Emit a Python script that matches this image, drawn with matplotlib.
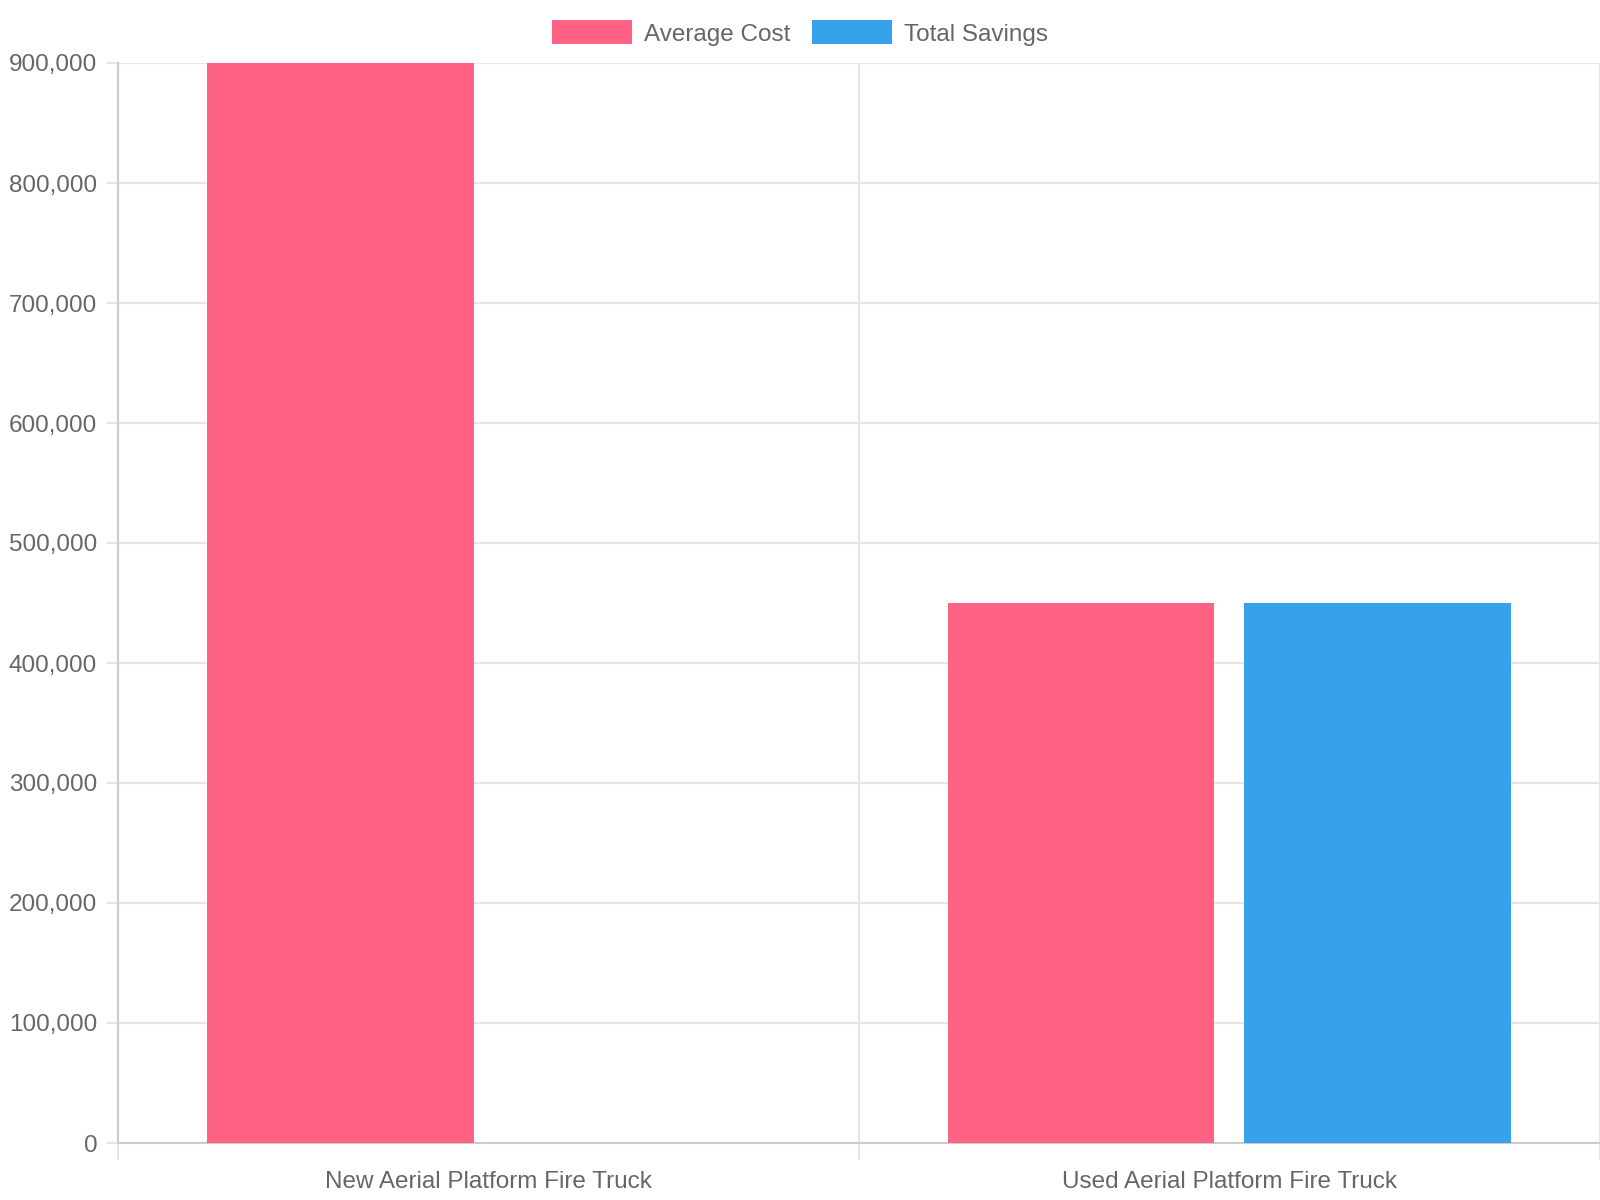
import matplotlib.pyplot as plt
from matplotlib.patches import Patch
from matplotlib.ticker import FuncFormatter

plt.rcParams['font.family'] = ['Liberation Sans', 'DejaVu Sans']

# Data
categories = ["New Aerial Platform Fire Truck", "Used Aerial Platform Fire Truck"]
average_cost = [900000, 450000]
total_savings = [0, 450000]
series_names = ["Average Cost", "Total Savings"]
colors = ["#FF6384", "#36A2EB"]

fig = plt.figure(figsize=(16, 12), dpi=100)
ax = fig.add_axes([118 / 1600, 1 - 1143 / 1200, 1 - 118 / 1600 - 0.0003, (1143 - 63) / 1200])

x = list(range(len(categories)))
bar_w = 0.36
ax.bar([i - 0.2 for i in x], average_cost, width=bar_w, color=colors[0], zorder=3)
ax.bar([i + 0.2 for i in x], total_savings, width=bar_w, color=colors[1], zorder=3)

ax.set_xlim(-0.5, len(categories) - 0.5)
ax.set_ylim(0, 900000)
ax.set_yticks(range(0, 900001, 100000))
ax.yaxis.set_major_formatter(FuncFormatter(lambda v, p: f"{int(v):,}"))

ax.set_xticks(x)
ax.set_xticklabels(categories)
ax.set_xticks([i - 0.5 for i in range(len(categories) + 1)], minor=True)

grid_c = "#e5e5e5"
ax.grid(axis="y", color=grid_c, linewidth=1.5, zorder=0)
ax.grid(axis="x", which="minor", color=grid_c, linewidth=1.5, zorder=0)

for side in ["top", "right"]:
    ax.spines[side].set_visible(False)
for side in ["left", "bottom"]:
    ax.spines[side].set_color("#cccccc")
    ax.spines[side].set_linewidth(1.5)

ax.tick_params(axis="y", length=8, width=1.5, color=grid_c, pad=7, labelsize=17.5, labelcolor="#666666")
ax.tick_params(axis="x", which="major", length=0, pad=20, labelsize=17.5, labelcolor="#666666")
ax.tick_params(axis="x", which="minor", length=12, width=1.5, color=grid_c)

handles = [Patch(facecolor=c, edgecolor="none") for c in colors]
fig.legend(handles, series_names, loc="center", bbox_to_anchor=(0.5, 1 - 33 / 1200), ncol=2,
           frameon=False, fontsize=17.5, labelcolor="#666666", handlelength=3.3, handleheight=1.15,
           handletextpad=0.5, columnspacing=0.9)

fig.savefig("out.png", dpi=100)
